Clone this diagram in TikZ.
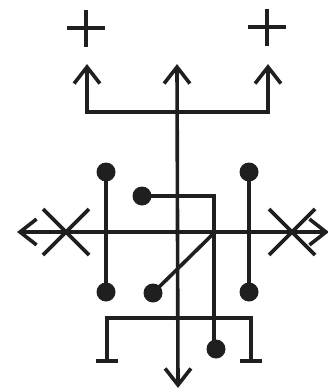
\documentclass[tikz,border=0pt]{standalone}
\usetikzlibrary{calc}
\tikzset{
  ink/.style={line width=3.6pt, draw=black!88, line cap=butt, line join=miter},
  dotnode/.style={circle, fill=black!88, inner sep=0pt, minimum size=19pt},
}
\newcommand{\vhead}[2]{% tip, direction angle of arrow
  \draw[ink] ($(#1)+(#2+142:21pt)$) -- (#1) -- ($(#1)+(#2-142:21pt)$);}
\begin{document}
\begin{tikzpicture}[x=1pt,y=-1pt]
\useasboundingbox (0,0) rectangle (328,388);
% plus signs
\draw[ink, line width=4.2pt] (67,28) -- (105,28) (86,10) -- (86,47);
\draw[ink, line width=4.2pt] (248,27) -- (286,27) (267,9) -- (267,46);
% top arrows
\coordinate (tl) at (87,67);
\coordinate (tc) at (177,67);
\coordinate (tr) at (268,67);
\coordinate (bc) at (178,385);
\draw[ink] (tl) -- (87,112) -- (268,112) -- (tr);
\draw[ink] (tc) -- (bc);
\vhead{tl}{90}\vhead{tc}{90}\vhead{tr}{90}\vhead{bc}{-90}
% main horizontal
\coordinate (al) at (20,232);
\coordinate (ar) at (326,232);
\draw[ink] (al) -- (ar);
\vhead{al}{180}\vhead{ar}{0}
% X marks
\draw[ink] (43,209) -- (89,255) (43,255) -- (89,209);
\draw[ink] (269,209) -- (315,255) (269,255) -- (315,209);
% dots
\node[dotnode] (d1) at (106,172) {};
\node[dotnode] (d2) at (249,172) {};
\node[dotnode] (d3) at (142,196) {};
\node[dotnode] (d4) at (106,292) {};
\node[dotnode] (d5) at (153,293) {};
\node[dotnode] (d6) at (249,292) {};
\node[dotnode] (d7) at (216,349) {};
\coordinate (k) at (214,196);
\coordinate (m) at (214,233);
\draw[ink] (d1.center) -- (d4.center);
\draw[ink] (d2.center) -- (d6.center);
\draw[ink] (d3.center) -- (k) -- (k |- d7.center) -- (d7.center);
\draw[ink] (d5.center) -- (m);
% bottom bracket
\draw[ink] (107,361) -- (107,318) -- (251,318) -- (251,361);
\draw[ink] (96,361) -- (118,361) (240,361) -- (262,361);
\end{tikzpicture}
\end{document}
